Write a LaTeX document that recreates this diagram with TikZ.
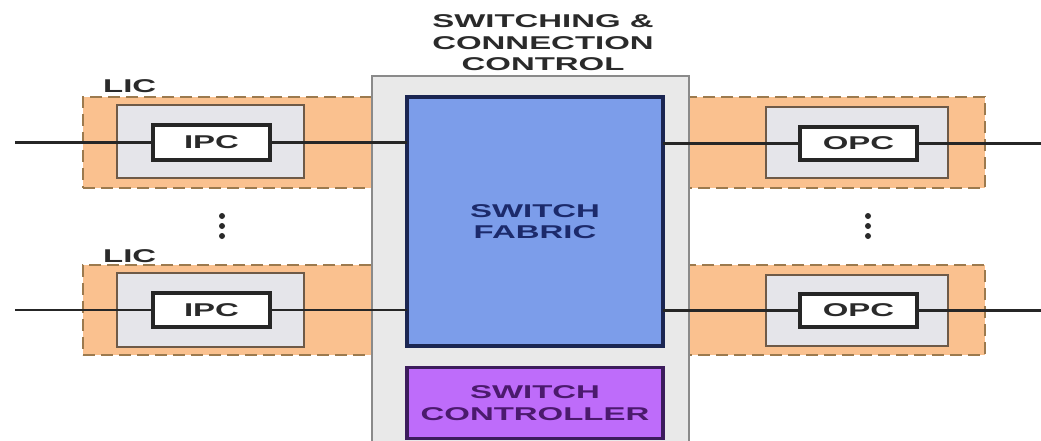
\documentclass[tikz,border=0pt]{standalone}
\usepackage{fontspec}
\setmainfont{Liberation Sans}[FakeStretch=1.78]
\definecolor{orangefill}{HTML}{FAC18F}
\definecolor{orangeline}{HTML}{9C7A4E}
\definecolor{ginfill}{HTML}{E5E5EA}
\definecolor{ginline}{HTML}{6E5A48}
\definecolor{centralfill}{HTML}{E9E9E9}
\definecolor{centralline}{HTML}{8A8A8A}
\definecolor{bluefill}{HTML}{7C9DEA}
\definecolor{blueline}{HTML}{1B2652}
\definecolor{purplefill}{HTML}{BE6CFA}
\definecolor{purpleline}{HTML}{3C1C5C}
\definecolor{bluetext}{HTML}{1C2A6B}
\definecolor{purpletext}{HTML}{4B1A6D}
\definecolor{darktext}{HTML}{2A2A2A}
\begin{document}
\begin{tikzpicture}[x=1pt,y=-1pt,
  box/.style={rectangle,inner sep=0pt,outer sep=0pt,font=\fontsize{18.5}{21.5}\selectfont\bfseries,align=center},
  licbox/.style={box,fill=orangefill,draw=orangeline,line width=2.5pt,dash pattern=on 12pt off 6pt},
  ginbox/.style={box,fill=ginfill,draw=ginline,line width=2.5pt},
  portbox/.style={box,fill=white,draw=black!85,line width=3.5pt,text=darktext},
  centralbox/.style={box,fill=centralfill,draw=centralline,line width=2.5pt},
  fabricbox/.style={box,fill=bluefill,draw=blueline,line width=3.5pt,text=bluetext},
  ctrlbox/.style={box,fill=purplefill,draw=purpleline,line width=3.5pt,text=purpletext},
  lbl/.style={inner sep=0pt,font=\fontsize{18.5}{21.5}\selectfont\bfseries,text=darktext,align=center},
  link/.style={draw=black!85,line width=2.6pt},
  dotn/.style={circle,fill=darktext,inner sep=0pt,minimum size=6pt}
]
\clip (0,0) rectangle (1041,441);
\fill[white] (0,0) rectangle (1041,441);
% LIC boxes
\node[licbox,minimum width=297pt,minimum height=91pt] (lic1) at (231.5,142.5) {};
\node[licbox,minimum width=297pt,minimum height=90pt] (lic2) at (231.5,310) {};
\node[licbox,minimum width=305pt,minimum height=91pt] (lic3) at (832.5,142.5) {};
\node[licbox,minimum width=305pt,minimum height=90pt] (lic4) at (832.5,310) {};
\node[lbl,anchor=base west] (liclbl1) at (103,93) {LIC};
\node[lbl,anchor=base west] (liclbl2) at (103,262) {LIC};
% central block
\node[centralbox,minimum width=317pt,minimum height=384pt] (central) at (530.5,268) {};
\node[fabricbox,minimum width=256pt,minimum height=249pt] (fabric) at (535,221.5) {SWITCH\\FABRIC};
\node[ctrlbox,minimum width=256pt,minimum height=71pt] (ctrl) at (535,403) {SWITCH\\CONTROLLER};
\node[lbl] (title) at (543,43) {SWITCHING \&\\CONNECTION\\CONTROL};
% inner gray boxes
\node[ginbox,minimum width=187pt,minimum height=73pt] (gin1) at (210.5,141.5) {};
\node[ginbox,minimum width=187pt,minimum height=74pt] (gin2) at (210.5,310) {};
\node[ginbox,minimum width=182pt,minimum height=71pt] (gout1) at (857,142.5) {};
\node[ginbox,minimum width=182pt,minimum height=71pt] (gout2) at (857,310.5) {};
% free ends
\coordinate (in1) at (15,142.5);
\coordinate (in2) at (15,310);
\coordinate (out1) at (1045,143.5);
\coordinate (out2) at (1045,310.5);
% port boxes and links
\node[portbox,minimum width=117pt,minimum height=35pt] (ipc1) at (211.5,142.5) {IPC};
\node[portbox,minimum width=117pt,minimum height=34pt] (ipc2) at (211.5,310) {IPC};
\node[portbox,minimum width=117pt,minimum height=33pt] (opc1) at (858.5,143.5) {OPC};
\node[portbox,minimum width=117pt,minimum height=33pt] (opc2) at (858.5,310.5) {OPC};
\draw[link] (in1) -- (ipc1.west);
\draw[link] (ipc1.east) -- (ipc1.east -| fabric.west);
\draw[link] (in2) -- (ipc2.west);
\draw[link] (ipc2.east) -- (ipc2.east -| fabric.west);
\draw[link] (opc1.west -| fabric.east) -- (opc1.west);
\draw[link] (opc1.east) -- (out1);
\draw[link] (opc2.west -| fabric.east) -- (opc2.west);
\draw[link] (opc2.east) -- (out2);
% vertical ellipses
\node[dotn] (dl1) at (222,216) {};
\node[dotn] (dl2) at (222,226) {};
\node[dotn] (dl3) at (222,236) {};
\node[dotn] (dr1) at (868,216) {};
\node[dotn] (dr2) at (868,226) {};
\node[dotn] (dr3) at (868,236) {};
\end{tikzpicture}
\end{document}
